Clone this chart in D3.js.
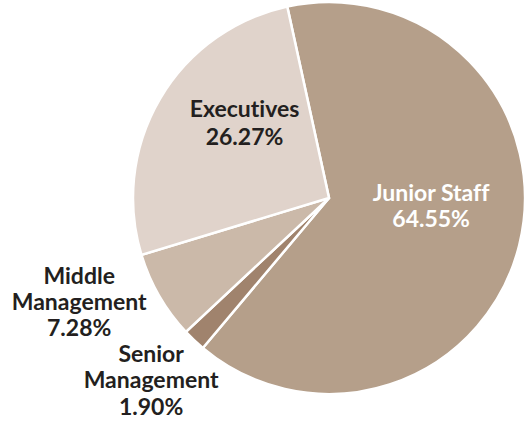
<!DOCTYPE html>
<html>
<head>
<meta charset="utf-8">
<script src="https://cdn.jsdelivr.net/npm/d3@7/dist/d3.min.js"></script>
<style>
  html, body { margin: 0; padding: 0; background: #fff; }
  svg { display: block; }
  text { font-family: Lato, "Open Sans", sans-serif; font-weight: 700; font-variant-ligatures: none; }
</style>
</head>
<body>
<svg id="chart" width="526" height="428"></svg>
<script>
// Staff composition by level (share of headcount, %)
const categories = ["Junior Staff", "Senior Management", "Middle Management", "Executives"];
const shares = [64.55, 1.90, 7.28, 26.27];
const sliceColors = ["#b59f8a", "#a0836d", "#cbb9a9", "#e0d3cb"];

// label lines per slice
const labelLines = [
  ["Junior Staff", "64.55%"],
  ["Senior", "Management", "1.90%"],
  ["Middle", "Management", "7.28%"],
  ["Executives", "26.27%"]
];

const W = 526, H = 428;
const cx = 329, cy = 198, R = 196;
const startDeg = -12.3;

const svg = d3.select("#chart");
const g = svg.append("g").attr("transform", `translate(${cx},${cy})`);

const data = categories.map((c, i) => ({ name: c, value: shares[i], color: sliceColors[i], lines: labelLines[i] }));

const pie = d3.pie()
  .value(d => d.value)
  .sort(null)
  .startAngle(startDeg * Math.PI / 180)
  .endAngle(startDeg * Math.PI / 180 + 2 * Math.PI);

const arcs = pie(data);
const arc = d3.arc().innerRadius(0).outerRadius(R);

g.selectAll("path.slice")
  .data(arcs)
  .join("path")
  .attr("class", "slice")
  .attr("d", arc)
  .attr("fill", d => d.data.color)
  .attr("stroke", "#fff")
  .attr("stroke-width", 2.5)
  .attr("stroke-linejoin", "miter");

// label placement: radius fraction along the slice bisector, then a nudge
const labelPos = [
  { r: 0.50, shift: [7, -15.5], color: "#fff", lineH: 26 },
  { r: 1.30, shift: [-2.5, -3], color: "#231f20", lineH: 26.5 },
  { r: 1.38, shift: [-15.5, -31.5], color: "#231f20", lineH: 26 },
  { r: 0.50, shift: [0, -26], color: "#231f20", lineH: 28 }
];

const fontSize = 23, capH = fontSize * 0.72;
arcs.forEach((a, i) => {
  const mid = (a.startAngle + a.endAngle) / 2;
  const p = labelPos[i];
  const x = Math.sin(mid) * R * p.r + p.shift[0];
  const y = -Math.cos(mid) * R * p.r + p.shift[1];
  const lines = a.data.lines;
  const t = g.append("text")
    .attr("text-anchor", "middle")
    .attr("fill", p.color)
    .attr("font-size", fontSize);
  lines.forEach((ln, k) => {
    t.append("tspan")
      .attr("x", x)
      .attr("y", y + (k - (lines.length - 1) / 2) * p.lineH + capH / 2)
      .text(ln);
  });
});
</script>
</body>
</html>
